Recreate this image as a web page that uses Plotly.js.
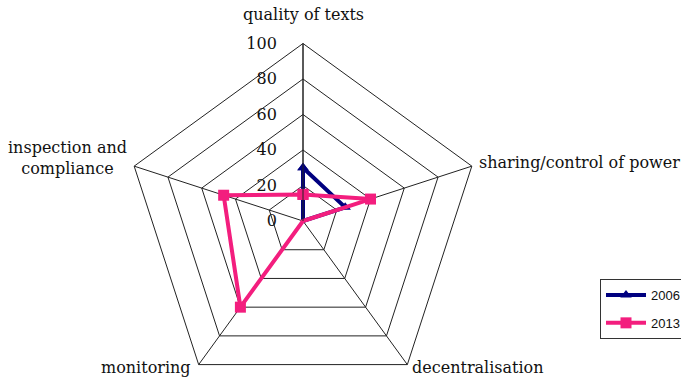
<!DOCTYPE html>
<html>
<head>
<meta charset="utf-8">
<script src="https://cdn.plot.ly/plotly-3.0.1.min.js"></script>
<style>
html,body{margin:0;padding:0;overflow:hidden;background:#fff;width:681px;height:379px;}
#chart{width:700px;height:400px;}
</style>
</head>
<body>
<div id="chart"></div>
<script>
// Data
const categories = ["quality of texts", "sharing/control of power", "decentralisation", "monitoring", "inspection and compliance"];
const categoryLabels = ["quality of texts", "sharing/control of power", "decentralisation", "monitoring", "inspection and<br>compliance"];
const values2006 = [30, 25, 0, 0, 0];
const values2013 = [15, 40, 0, 60, 47];
const seriesNames = ["2006", "2013"];
const radialTicks = [0, 20, 40, 60, 80, 100];

const W = 700, H = 400;
const cx = 303, cy = 221, R = 177.5;
const serif = "'DejaVu Serif', 'Liberation Serif', serif";

function closed(arr){ return arr.concat([arr[0]]); }

const traces = [
  {
    type: "scatterpolar",
    name: seriesNames[0],
    r: closed(values2006),
    theta: closed(categories),
    mode: "lines+markers",
    line: {color: "#000080", width: 4},
    marker: {symbol: "triangle-up", size: 10, color: "#000080"},
    legendgroup: "a"
  },
  {
    type: "scatterpolar",
    name: seriesNames[1],
    r: closed(values2013),
    theta: closed(categories),
    mode: "lines+markers",
    line: {color: "#f31e7e", width: 4},
    marker: {symbol: "square", size: 11, color: "#f31e7e"},
    legendgroup: "b"
  }
];

const labelPos = [
  {x: 303, y: 14, xa: "center"},
  {x: 477, y: 162, xa: "left"},
  {x: 410, y: 367, xa: "left"},
  {x: 193, y: 367, xa: "right"},
  {x: 129, y: 158, xa: "right"}
];

const annotations = categoryLabels.map((t, i) => ({
  text: t,
  xref: "paper", yref: "paper",
  x: labelPos[i].x / W, y: 1 - labelPos[i].y / H,
  xanchor: labelPos[i].xa, yanchor: "middle",
  align: "center",
  showarrow: false,
  font: {family: serif, size: 16, color: "#111"}
}));

const layout = {
  width: W, height: H,
  margin: {l: 0, r: 0, t: 0, b: 0, autoexpand: false},
  paper_bgcolor: "#fff",
  plot_bgcolor: "#fff",
  showlegend: true,
  legend: {
    x: 600 / W, y: 1 - 279 / H, xanchor: "left", yanchor: "top",
    bordercolor: "#333", borderwidth: 1,
    font: {family: "'Liberation Sans', Arial, sans-serif", size: 13, color: "#111"},
    traceorder: "grouped", tracegroupgap: 8,
    itemwidth: 40,
    bgcolor: "#fff"
  },
  polar: {
    domain: {x: [(cx - R) / W, (cx + R) / W], y: [1 - (cy + R) / H, 1 - (cy - R) / H]},
    gridshape: "linear",
    bgcolor: "#fff",
    angularaxis: {
      type: "category",
      categoryarray: categories,
      direction: "clockwise",
      rotation: 90,
      showticklabels: false,
      ticks: "",
      showline: true,
      linecolor: "#222",
      linewidth: 1,
      gridcolor: "#222",
      gridwidth: 1
    },
    radialaxis: {
      range: [0, 100],
      tickvals: radialTicks,
      angle: 90,
      side: "counterclockwise",
      showline: true,
      linecolor: "#222",
      linewidth: 1,
      gridcolor: "#222",
      gridwidth: 1,
      ticks: "outside",
      ticklen: 20,
      tickcolor: "rgba(0,0,0,0)",
      tickangle: 90,
      tickfont: {family: serif, size: 16, color: "#111"}
    }
  },
  annotations: annotations
};

Plotly.newPlot("chart", traces, layout, {staticPlot: true, displayModeBar: false});
</script>
</body>
</html>
